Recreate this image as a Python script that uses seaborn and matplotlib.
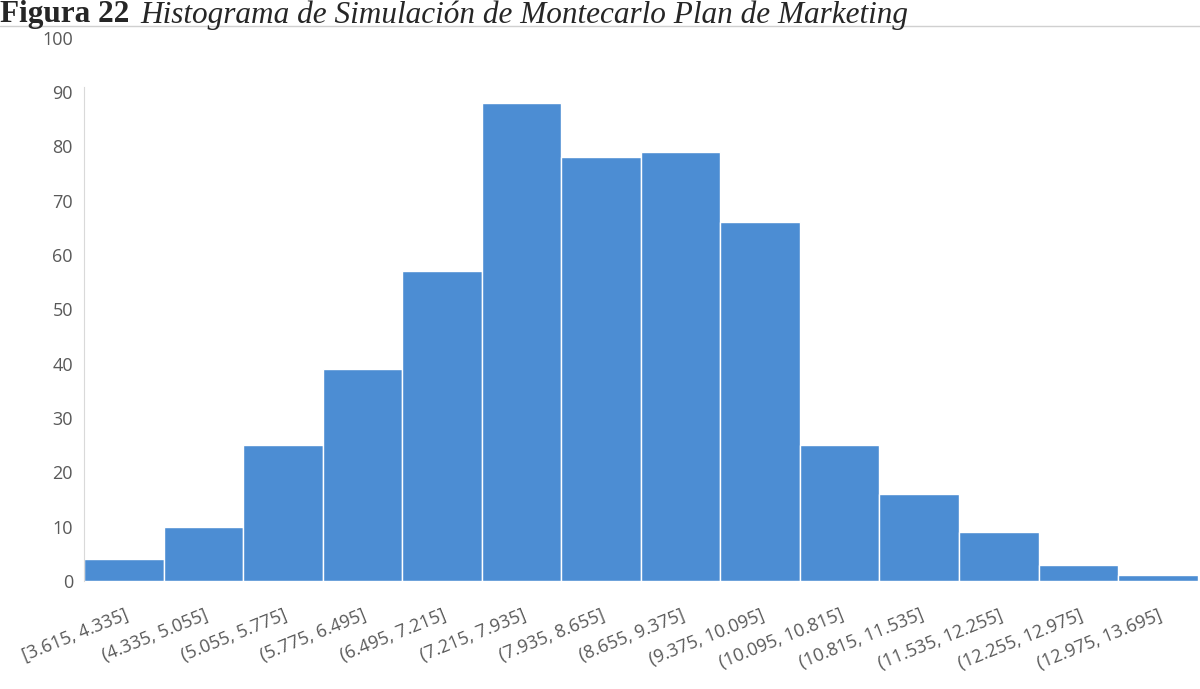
import pandas as pd
from matplotlib import pyplot as plt
import seaborn as sns

bins = ['[3.615, 4.335]', '(4.335, 5.055]', '(5.055, 5.775]', '(5.775, 6.495]',
        '(6.495, 7.215]', '(7.215, 7.935]', '(7.935, 8.655]', '(8.655, 9.375]',
        '(9.375, 10.095]', '(10.095, 10.815]', '(10.815, 11.535]', '(11.535, 12.255]',
        '(12.255, 12.975]', '(12.975, 13.695]']
counts = [4, 10, 25, 39, 57, 88, 78, 79, 66, 25, 16, 9, 3, 1]
yticks = [0, 10, 20, 30, 40, 50, 60, 70, 80, 90, 100]

bar_color = '#4c8dd3'
label_grey = '#595959'

sns.set_style('white')
plt.rcParams['font.family'] = ['Open Sans', 'DejaVu Sans']

data = pd.DataFrame({'bin': bins, 'count': counts})

fig = plt.figure(figsize=(12, 6.89), dpi=100)
ax = fig.add_axes([0.07, 0.157, 0.928, 0.788])

sns.barplot(data=data, x='bin', y='count', color=bar_color, saturation=1,
            width=1.0, edgecolor='white', linewidth=1, ax=ax)

ax.set_xlim(-0.5, len(bins) - 0.5)
ax.set_ylim(0, 100)
ax.set_yticks(yticks)
ax.set_yticklabels([str(t) for t in yticks], fontsize=13, color=label_grey)
ax.set_xticks(range(len(bins)))
ax.set_xticklabels(bins, rotation=22, ha='right', rotation_mode='anchor',
                   fontsize=13, color=label_grey)
ax.tick_params(axis='y', length=0, pad=8)
ax.tick_params(axis='x', length=0, pad=18)
ax.set_xlabel('')
ax.set_ylabel('')

for side in ['top', 'right', 'bottom']:
    ax.spines[side].set_visible(False)
ax.spines['left'].set_color('#d9d9d9')
ax.spines['left'].set_bounds(0, 91)

# thin frame line under the caption
fig.add_artist(plt.Line2D([0.0, 1.0], [0.962, 0.962], color='#d0d0d0', lw=1))

fig.text(0.0, 1.0, 'Figura 22', fontsize=22.5, fontweight='bold',
         family='Liberation Serif', va='top', ha='left')
fig.text(0.117, 1.0, 'Histograma de Simulación de Montecarlo Plan de Marketing',
         fontsize=22.5, style='italic', family='Liberation Serif', va='top', ha='left')

plt.savefig('out.png', dpi=100)
